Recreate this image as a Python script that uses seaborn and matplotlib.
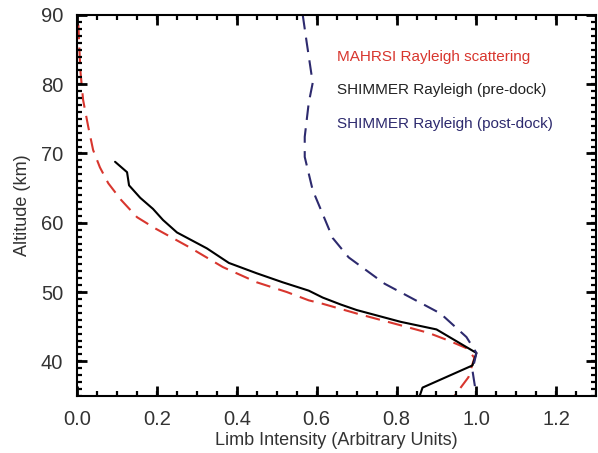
import numpy as np
import pandas as pd
import matplotlib
matplotlib.use("Agg")
import matplotlib.pyplot as plt
import matplotlib.transforms as mtransforms
import seaborn as sns
from matplotlib.ticker import MultipleLocator, FormatStrFormatter

# MAHRSI Rayleigh scattering (red dashed)
mahrsi_int = [0.003, 0.008, 0.015, 0.028, 0.04, 0.057, 0.078, 0.11, 0.15, 0.195,
              0.28, 0.365, 0.45, 0.525, 0.58, 0.615, 0.70, 0.81, 0.88, 0.93,
              0.975, 0.995, 0.98, 0.945]
mahrsi_alt = [88.6, 82.0, 77.7, 73.8, 70.5, 68.0, 65.7, 63.3, 60.8, 59.2,
              56.5, 53.6, 51.4, 50.0, 48.8, 48.3, 46.9, 45.2, 44.1, 43.0,
              41.9, 40.5, 37.7, 35.0]

# SHIMMER pre-dock (black solid)
pre_int = [0.095, 0.125, 0.13, 0.158, 0.19, 0.215, 0.25, 0.325, 0.38, 0.45,
           0.515, 0.58, 0.615, 0.66, 0.70, 0.81, 0.90, 1.0, 0.99, 0.865, 0.858]
pre_alt = [68.8, 67.3, 65.4, 63.6, 62.0, 60.4, 58.6, 56.3, 54.2, 52.7,
           51.4, 50.2, 49.2, 48.2, 47.4, 45.7, 44.6, 41.2, 39.4, 36.2, 35.0]

# SHIMMER post-dock (navy dashed)
post_int = [0.565, 0.575, 0.59, 0.58, 0.57, 0.57, 0.59, 0.64, 0.68, 0.77,
            0.91, 0.975, 1.0, 0.99, 1.0]
post_alt = [90.0, 86.0, 80.2, 77.3, 72.4, 69.5, 64.7, 57.8, 55.0, 51.2,
            46.9, 43.5, 41.2, 38.7, 35.0]

labels = ["MAHRSI Rayleigh scattering", "SHIMMER Rayleigh (pre-dock)",
          "SHIMMER Rayleigh (post-dock)"]
red = "#d8362e"
navy = "#2d2a6e"

sns.set_style("white")
plt.rcParams.update({
    "font.family": ["Liberation Sans", "DejaVu Sans"],
    "xtick.labelcolor": "#333333", "ytick.labelcolor": "#333333",
    "xtick.labelsize": 14.5, "ytick.labelsize": 14.5,
})

W, H = 5.98, 4.53
fig = plt.figure(figsize=(W, H), dpi=100)
ax_rect = [0.129, 0.126, 0.868, 0.841]
ax = fig.add_axes(ax_rect)

sns.lineplot(x=mahrsi_int, y=mahrsi_alt, sort=False, estimator=None, ax=ax,
             color=red, lw=1.5, linestyle=(0, (7, 4)))
sns.lineplot(x=pre_int, y=pre_alt, sort=False, estimator=None, ax=ax,
             color="black", lw=1.5)
sns.lineplot(x=post_int, y=post_alt, sort=False, estimator=None, ax=ax,
             color=navy, lw=1.5, linestyle=(0, (7, 4)))

ax.set_xlim(0, 1.3)
ax.set_ylim(35, 90)
ax.xaxis.set_major_locator(MultipleLocator(0.2))
ax.yaxis.set_major_locator(MultipleLocator(10))
ax.xaxis.set_major_formatter(FormatStrFormatter("%.1f"))
ax.tick_params(which="both", length=0, pad=10)
for s in ax.spines.values():
    s.set_visible(True)
    s.set_linewidth(1.5)
    s.set_color("black")

# inward ticks on all four sides (tick markers don't render here, so draw them)
ax_w = ax_rect[2] * W * 100
ax_h = ax_rect[3] * H * 100
xt = mtransforms.blended_transform_factory(ax.transData, ax.transAxes)
yt = mtransforms.blended_transform_factory(ax.transAxes, ax.transData)
xmaj = np.arange(0, 1.31, 0.2)
xmin = np.arange(0, 1.31, 0.05)
ymaj = np.arange(40, 91, 10)
ymin = np.arange(35, 91, 1)
for locs, ln, lw in [(xmaj, 10, 2.0), (xmin, 5, 1.6)]:
    f = ln / ax_h
    ax.vlines(locs, 0, f, transform=xt, color="black", lw=lw, zorder=4)
    ax.vlines(locs, 1 - f, 1, transform=xt, color="black", lw=lw, zorder=4)
for locs, ln, lw in [(ymaj, 10, 2.0), (ymin, 5, 1.6)]:
    f = ln / ax_w
    ax.hlines(locs, 0, f, transform=yt, color="black", lw=lw, zorder=4)
    ax.hlines(locs, 1 - f, 1, transform=yt, color="black", lw=lw, zorder=4)

ax.set_xlabel("Limb Intensity (Arbitrary Units)", fontsize=13, color="#333333", labelpad=2)
ax.set_ylabel("Altitude (km)", fontsize=13, color="#333333", labelpad=7)

for lab, col, yy in zip(labels, [red, "#222222", navy], [0.89, 0.803, 0.714]):
    ax.text(0.5, yy, lab, transform=ax.transAxes, color=col, fontsize=11,
            va="center", ha="left")

fig.savefig("out.png", dpi=100)
